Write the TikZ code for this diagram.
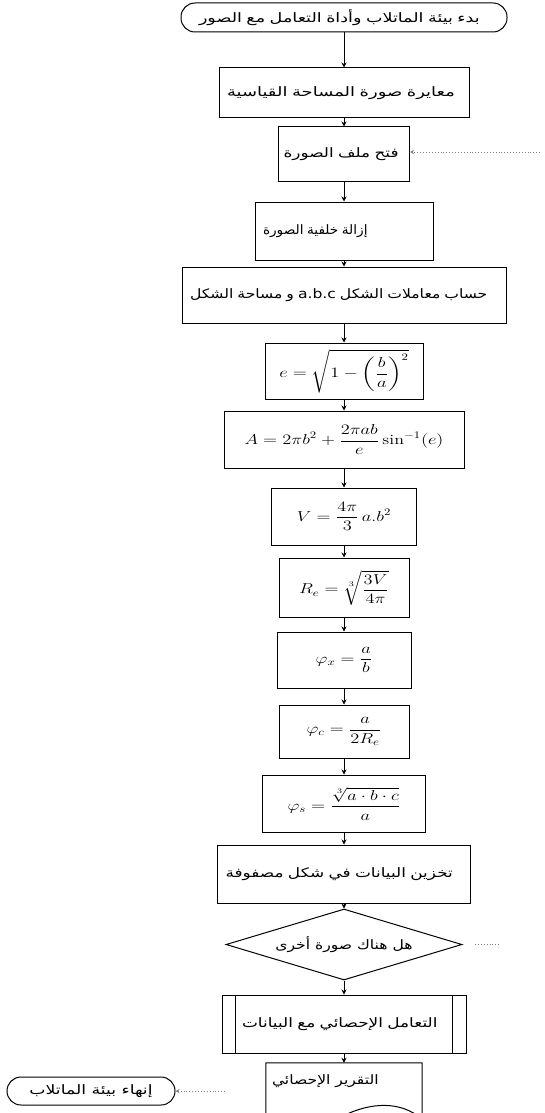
\documentclass[tikz,border=0pt]{standalone}
\usepackage{fontspec}
\usepackage{amsmath}
\usepackage{graphicx}
\usetikzlibrary{arrows.meta,shapes.geometric}
\newfontfamily\arabicfont[Script=Arabic]{DejaVu Sans}
\TeXXeTstate=1
\newcommand{\ArT}[2]{\scalebox{#1}[1]{\arabicfont\fontsize{13}{15}\selectfont #2}}
\newcommand{\FmT}[1]{\scalebox{1.28}[1]{\fontsize{14}{17}\selectfont$\displaystyle #1$}}
\begin{document}
\begin{tikzpicture}[x=1pt,y=-1pt,
  box/.style={draw, line width=1pt, inner sep=0pt, align=center},
  lbox/.style={draw, line width=1pt, inner sep=0pt, align=left},
  term/.style={lbox, rounded corners=14pt},
  arr/.style={-{Stealth[length=5pt,width=5pt]}, line width=0.8pt},
  dots/.style={dotted, gray, line width=0.9pt, -{Stealth[length=4pt,width=4pt]}}]
\useasboundingbox (0,0) rectangle (545,1113);
\clip (0,0) rectangle (545,1113);
\node[term, minimum width=326pt, text width=290pt, minimum height=29pt] (start) at (344,17.5) {\ArT{1.35}{\beginR بدء بيئة الماتلاب وأداة التعامل مع الصور\endR}};
\node[lbox, minimum width=250pt, text width=234pt, minimum height=50pt] (b2) at (344,93) {\ArT{1.38}{\beginR معايرة صورة المساحة القياسية\endR}};
\node[lbox, minimum width=131pt, text width=121pt, minimum height=54pt] (b3) at (344,154) {\ArT{1.3}{\beginR فتح ملف الصورة\endR}};
\node[lbox, minimum width=178pt, text width=162pt, minimum height=58pt] (b4) at (344,231) {\ArT{1.05}{\beginR إزالة خلفية الصورة\endR}};
\node[lbox, minimum width=324pt, text width=308pt, minimum height=56pt] (b5) at (344,295) {\ArT{1.2}{\beginR حساب معاملات الشكل \beginL a.b.c\endL{} و مساحة الشكل\endR}};
\node[box, minimum width=158pt, minimum height=56pt] (b6) at (344,371) {\FmT{e = \sqrt{1-\left(\frac{b}{a}\right)^{2}}}};
\node[box, minimum width=240pt, minimum height=57pt] (b7) at (344,439.5) {\FmT{A = 2\pi b^{2} + \frac{2\pi ab}{e}\sin^{-1}(e)}};
\node[box, minimum width=145pt, minimum height=57pt] (b8) at (344,516.5) {\FmT{V = \frac{4\pi}{3}\,a.b^{2}}};
\node[box, minimum width=130pt, minimum height=59pt] (b9) at (344,587.5) {\FmT{R_{e} = \sqrt[3]{\frac{3V}{4\pi}}}};
\node[box, minimum width=134pt, minimum height=56pt] (b10) at (344,660) {\FmT{\varphi_{x} = \frac{a}{b}}};
\node[box, minimum width=130pt, minimum height=53pt] (b11) at (344,731.5) {\FmT{\varphi_{c} = \frac{a}{2R_{e}}}};
\node[box, minimum width=163pt, minimum height=57pt] (b12) at (344,803.5) {\FmT{\varphi_{s} = \frac{\sqrt[3]{a\cdot b\cdot c}}{a}}};
\node[lbox, minimum width=253pt, text width=237pt, minimum height=58pt] (b13) at (344,874) {\ArT{1.3}{\beginR تخزين البيانات في شكل مصفوفة\endR}};
\node[box, diamond, aspect=3.3, minimum width=236pt, minimum height=71pt] (dia) at (344,944.5) {\ArT{1.2}{\beginR هل هناك صورة أخرى\endR}};
\node[lbox, minimum width=244pt, text width=204pt, minimum height=58pt] (b14) at (344,1024) {\ArT{1.3}{\beginR التعامل الإحصائي مع البيانات\endR}};
\draw[line width=1pt] ([xshift=14pt]b14.north west) -- ([xshift=14pt]b14.south west)
  ([xshift=-14pt]b14.north east) -- ([xshift=-14pt]b14.south east);
\node[minimum width=156pt, minimum height=62pt, inner sep=0pt] (rep) at (344,1094) {};
\draw[line width=1pt] (rep.south west) -- (rep.north west) -- (rep.north east) -- ([yshift=6pt]rep.south east)
  .. controls (400,1100) and (370,1103) .. (345,1115) .. controls (320,1127) and (290,1127) .. (rep.south west);
\node[anchor=west, inner sep=0pt] (reptext) at ([xshift=6pt,yshift=-18pt]rep.north west) {\ArT{1.2}{\beginR التقرير الإحصائي\endR}};
\node[term, align=center, minimum width=168pt, minimum height=28pt] (end) at (91,1091) {\ArT{1.33}{\beginR إنهاء بيئة الماتلاب\endR}};
\coordinate (in3) at (540,152);
\coordinate (inend) at (225,1091);
\coordinate (d1) at (475,944.5);
\coordinate (d2) at (500,944.5);
\draw[arr] (start) -- (b2);
\draw[arr] (b2) -- (b3);
\draw[arr] (b3) -- (b4);
\draw[arr] (b4) -- (b5);
\draw[arr] (b5) -- (b6);
\draw[arr] (b6) -- (b7);
\draw[arr] (b7) -- (b8);
\draw[arr] (b8) -- (b9);
\draw[arr] (b9) -- (b10);
\draw[arr] (b10) -- (b11);
\draw[arr] (b11) -- (b12);
\draw[arr] (b12) -- (b13);
\draw[arr] (b13) -- (dia);
\draw[arr] (dia) -- (b14);
\draw[arr] (b14) -- (rep.north);
\draw[dots] (in3) -- (b3.east |- in3);
\draw[dots] (inend) -- (end.east);
\draw[dotted, gray, line width=0.9pt] (d1) -- (d2);
\end{tikzpicture}
\end{document}
